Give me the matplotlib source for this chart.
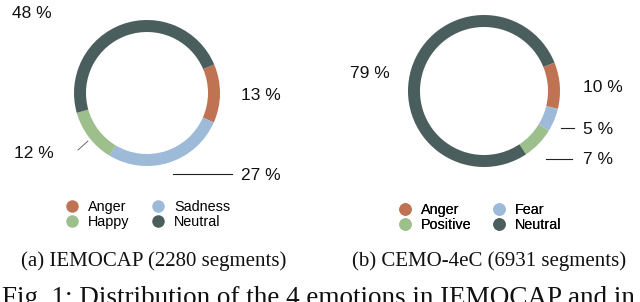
import matplotlib
matplotlib.use("Agg")
import matplotlib.pyplot as plt
from matplotlib.lines import Line2D

# Data
iemocap_labels = ["Anger", "Sadness", "Happy", "Neutral"]
iemocap_values = [13, 27, 12, 48]
cemo_labels = ["Anger", "Fear", "Positive", "Neutral"]
cemo_values = [10, 5, 7, 79]

colors = {"Anger": "#c07352", "Sadness": "#9dbad8", "Fear": "#9dbad8",
          "Happy": "#9dbf8c", "Positive": "#9dbf8c", "Neutral": "#4b5e5e"}

W, H = 640, 302
fig = plt.figure(figsize=(W / 100, H / 100), dpi=100)
ax = fig.add_axes([0, 0, 1, 1])

def Y(py):
    return H - py

# Left donut
ax.pie(iemocap_values, colors=[colors[l] for l in iemocap_labels],
       startangle=23, counterclock=False, center=(147, Y(93)), radius=73,
       wedgeprops=dict(width=12, linewidth=0), frame=True)
# Right donut
ax.pie(cemo_values, colors=[colors[l] for l in cemo_labels],
       startangle=22, counterclock=False, center=(484, Y(91)), radius=76,
       wedgeprops=dict(width=12, linewidth=0), frame=True)
ax.set_xlim(0, W)
ax.set_ylim(0, H)
ax.set_aspect("equal")
ax.axis("off")

lab_font = dict(family="Liberation Sans", fontsize=12.5, color="#111111")
# Left labels
ax.text(12, Y(14), f"{iemocap_values[3]} %", ha="left", va="center", **lab_font)
ax.text(241, Y(95), f"{iemocap_values[0]} %", ha="left", va="center", **lab_font)
ax.text(14, Y(153), f"{iemocap_values[2]} %", ha="left", va="center", **lab_font)
ax.text(241, Y(176), f"{iemocap_values[1]} %", ha="left", va="center", **lab_font)
ax.plot([173, 232], [Y(174), Y(174)], color="#222222", lw=0.8)
ax.plot([78, 88], [Y(150), Y(141)], color="#555555", lw=0.6)

# Right labels
ax.text(350, Y(73), f"{cemo_values[3]} %", ha="left", va="center", **lab_font)
ax.text(583, Y(87), f"{cemo_values[0]} %", ha="left", va="center", **lab_font)
ax.text(583, Y(130), f"{cemo_values[1]} %", ha="left", va="center", **lab_font)
ax.text(583, Y(159), f"{cemo_values[2]} %", ha="left", va="center", **lab_font)
ax.plot([561, 574], [Y(128), Y(128)], color="#222222", lw=0.8)
ax.plot([546, 572], [Y(159), Y(159)], color="#222222", lw=0.8)

def make_legend(labels, anchor, colsp):
    order = [labels[0], labels[2], labels[1], labels[3]]
    handles = [Line2D([], [], marker="o", linestyle="none", markersize=9,
                      markerfacecolor=colors[l], markeredgewidth=0, label=l)
               for l in order]
    leg = ax.legend(handles=handles, ncol=2, loc="upper left",
                    bbox_to_anchor=anchor, bbox_transform=ax.transData,
                    frameon=False, prop=dict(family="Liberation Sans", size=10.4),
                    handlelength=0.8, handletextpad=0.7, columnspacing=colsp,
                    labelspacing=0.1, borderpad=0, borderaxespad=0)
    ax.add_artist(leg)

make_legend(iemocap_labels, (66, Y(200)), 1.6)
make_legend(cemo_labels, (399, Y(203)), 1.5)

cap_font = dict(family="Liberation Serif", fontsize=15, color="#111111")
ax.text(153.5, Y(261), "(a) IEMOCAP (2280 segments)", ha="center", va="center", **cap_font)
ax.text(489, Y(261), "(b) CEMO-4eC (6931 segments)", ha="center", va="center", **cap_font)
ax.text(2, Y(305), "Fig. 1: Distribution of the 4 emotions in IEMOCAP and in",
        ha="left", va="baseline", family="Liberation Serif", fontsize=19.5,
        color="#111111")

fig.savefig("out.png", dpi=100)
